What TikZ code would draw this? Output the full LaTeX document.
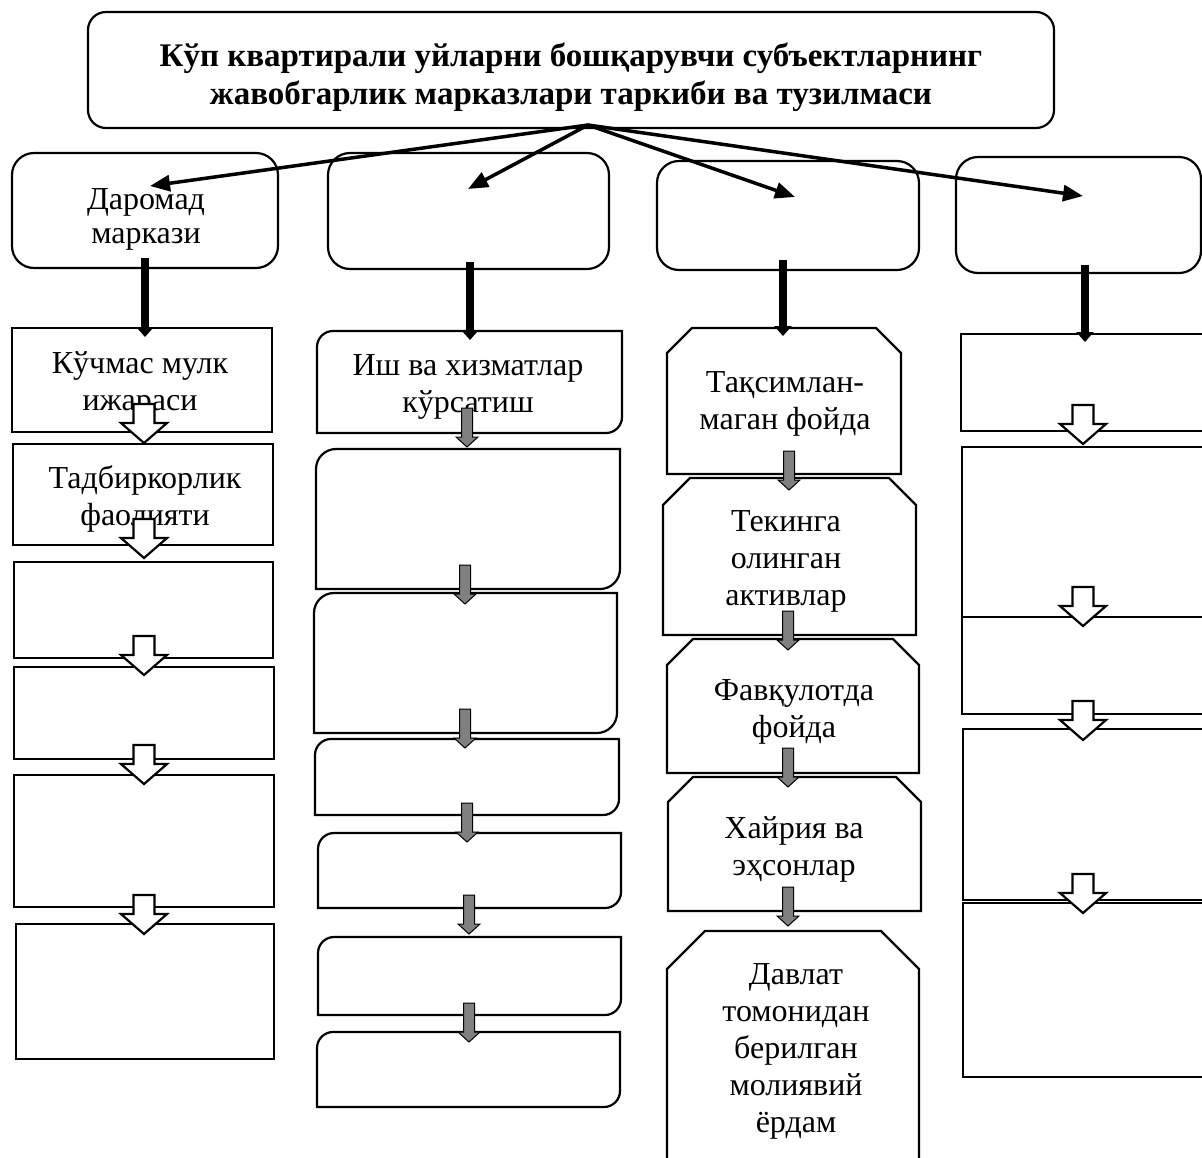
\documentclass[tikz,border=0pt]{standalone}
\usepackage{fontspec}
\setmainfont{Liberation Serif}
\usetikzlibrary{arrows.meta}
\newcommand\lns[1]{\begin{tabular}[t]{@{}c@{}}#1\end{tabular}}
\newcommand\rectnode[6]{% name x1 y1 x2 y2 extra-style
  \pgfmathsetmacro\rw{#4-#2}\pgfmathsetmacro\rh{#5-#3}%
  \node[box, minimum width=\rw pt, minimum height=\rh pt, #6] (#1) at ({(#2+#4)/2},{(#3+#5)/2}) {};}
\newcommand\diagshape[6]{% name x1 y1 x2 y2 r
  \draw[boxline] (#2,#5) -- (#2,#3+#6) .. controls (#2,#3+0.448*#6) and (#2+0.448*#6,#3) .. (#2+#6,#3) -- (#4,#3) -- (#4,#5-#6) .. controls (#4,#5-0.448*#6) and (#4-0.448*#6,#5) .. (#4-#6,#5) -- cycle;
  \coordinate (#1) at ({(#2+#4)/2},{(#3+#5)/2});}
\newcommand\snipshape[6]{% name x1 y1 x2 y2 cut
  \draw[boxline] (#2,#5) -- (#2,#3+#6) -- (#2+#6,#3) -- (#4-#6,#3) -- (#4,#3+#6) -- (#4,#5) -- cycle;
  \coordinate (#1) at ({(#2+#4)/2},{(#3+#5)/2});}
\begin{document}
\begin{tikzpicture}[x=1pt,y=-1pt,
  box/.style={draw, line width=2.2pt, inner sep=0pt},
  boxline/.style={draw, line width=2.2pt, line join=miter},
  txt/.style={anchor=base, inner sep=0pt, font=\fontsize{32}{37}\selectfont},
  ttl/.style={anchor=base, inner sep=0pt, font=\bfseries\fontsize{33}{38}\selectfont},
  mainarrow/.style={line width=3.5pt, -{Triangle[length=20pt,width=16pt]}},
  thickarrow/.style={line width=8pt, -{Triangle[length=10pt,width=17pt]}},
  hollowdown/.pic={\draw[line width=2.2pt, fill=white, line join=miter] (-10.5,-39) -- (10.5,-39) -- (10.5,-20) -- (23,-20) -- (0,0) -- (-23,-20) -- (-10.5,-20) -- cycle;},
  graydown/.pic={\draw[line width=1pt, fill={rgb,255:red,128;green,128;blue,128}, line join=miter] (-5.5,-39) -- (5.5,-39) -- (5.5,-10) -- (11,-10) -- (0,0) -- (-11,-10) -- (-5.5,-10) -- cycle;}
]
\useasboundingbox (0,0) rectangle (1202,1157);
\clip (0,0) rectangle (1202,1157);
\fill[white] (0,0) rectangle (1202,1157);

% title
\rectnode{title}{88}{12}{1054}{128}{rounded corners=18pt}
\node[ttl] (titletext) at (571,66) {\lns{Кўп квартирали уйларни бошқарувчи субъектларнинг\\жавобгарлик марказлари таркиби ва тузилмаси}};

% top row
\rectnode{top1}{12}{153}{278}{268}{rounded corners=22pt}
\rectnode{top2}{328}{153}{609}{269}{rounded corners=22pt}
\rectnode{top3}{657}{161}{919}{270}{rounded corners=22pt}
\rectnode{top4}{956}{157}{1201}{273}{rounded corners=22pt}
\node[txt, font=\fontsize{32}{34}\selectfont] (top1t) at (146,209) {\lns{Даромад\\маркази}};

% column 1
\rectnode{b1}{12}{328}{272}{432}{}
\rectnode{b2}{13}{444}{273}{545}{}
\rectnode{b3}{14}{562}{273}{658}{}
\rectnode{b4}{14}{667}{274}{759}{}
\rectnode{b5}{14}{775}{274}{907}{}
\rectnode{b6}{16}{924}{274}{1059}{}
\node[txt] (b1t) at (140,373) {\lns{Кўчмас мулк\\ижараси}};
\node[txt] (b2t) at (145,488) {\lns{Тадбиркорлик\\фаолияти}};

% column 2
\diagshape{c1}{317}{331}{622}{433}{16}
\diagshape{c2}{316}{449}{620}{589}{20}
\diagshape{c3}{314}{593}{617}{733}{20}
\diagshape{c4}{315}{739}{619}{815}{16}
\diagshape{c5}{318}{833}{621}{908}{16}
\diagshape{c6}{318}{937}{621}{1015}{16}
\diagshape{c7}{317}{1032}{620}{1107}{16}
\node[txt] (c1t) at (468,375) {\lns{Иш ва хизматлар\\кўрсатиш}};

% column 3
\snipshape{d1}{667}{328}{901}{474}{25}
\snipshape{d2}{663}{478}{916}{635}{27}
\snipshape{d3}{667}{639}{919}{773}{26}
\snipshape{d4}{668}{777}{921}{911}{25}
\snipshape{d5}{667}{931}{919}{1170}{38}
\node[txt] (d1t) at (785,392) {\lns{Тақсимлан-\\маган фойда}};
\node[txt] (d2t) at (786,531) {\lns{Текинга\\олинган\\активлар}};
\node[txt] (d3t) at (794,700) {\lns{Фавқулотда\\фойда}};
\node[txt] (d4t) at (794,838) {\lns{Хайрия ва\\эҳсонлар}};
\node[txt] (d5t) at (796,984) {\lns{Давлат\\томонидан\\берилган\\молиявий\\ёрдам}};

% column 4
\rectnode{e1}{961}{334}{1210}{431}{}
\rectnode{e2}{962}{447}{1210}{617}{}
\rectnode{e3}{962}{617}{1210}{714}{}
\rectnode{e4}{963}{729}{1210}{900}{}
\rectnode{e5}{963}{903}{1210}{1077}{}

% block arrows
\pic at (144,443) {hollowdown};
\pic at (144,558) {hollowdown};
\pic at (144,675) {hollowdown};
\pic at (144,784) {hollowdown};
\pic at (144,934) {hollowdown};
\pic at (1083,444) {hollowdown};
\pic at (1083,626) {hollowdown};
\pic at (1083,740) {hollowdown};
\pic at (1083,913) {hollowdown};

\pic at (467,447) {graydown};
\pic at (465,604) {graydown};
\pic at (465,748) {graydown};
\pic at (467,842) {graydown};
\pic at (469,934) {graydown};
\pic at (469,1042) {graydown};
\pic at (789,490) {graydown};
\pic at (788,650) {graydown};
\pic at (788,787) {graydown};
\pic at (788,926) {graydown};

% thick arrows
\coordinate (s1) at (145,258); \coordinate (e1t) at (145,337);
\coordinate (s2) at (470,262); \coordinate (e2t) at (470,340);
\coordinate (s3) at (783,260); \coordinate (e3t) at (783,336);
\coordinate (s4) at (1085,265); \coordinate (e4t) at (1085,342);
\draw[thickarrow] (s1) -- (e1t);
\draw[thickarrow] (s2) -- (e2t);
\draw[thickarrow] (s3) -- (e3t);
\draw[thickarrow] (s4) -- (e4t);

% main arrows
\coordinate (o) at (588,125);
\coordinate (p1) at (150,186);
\coordinate (p2) at (468,189);
\coordinate (p3) at (795,197);
\coordinate (p4) at (1083,196);
\draw[mainarrow] (o) -- (p1);
\draw[mainarrow] (o) -- (p2);
\draw[mainarrow] (o) -- (p3);
\draw[mainarrow] (o) -- (p4);
\end{tikzpicture}
\end{document}
